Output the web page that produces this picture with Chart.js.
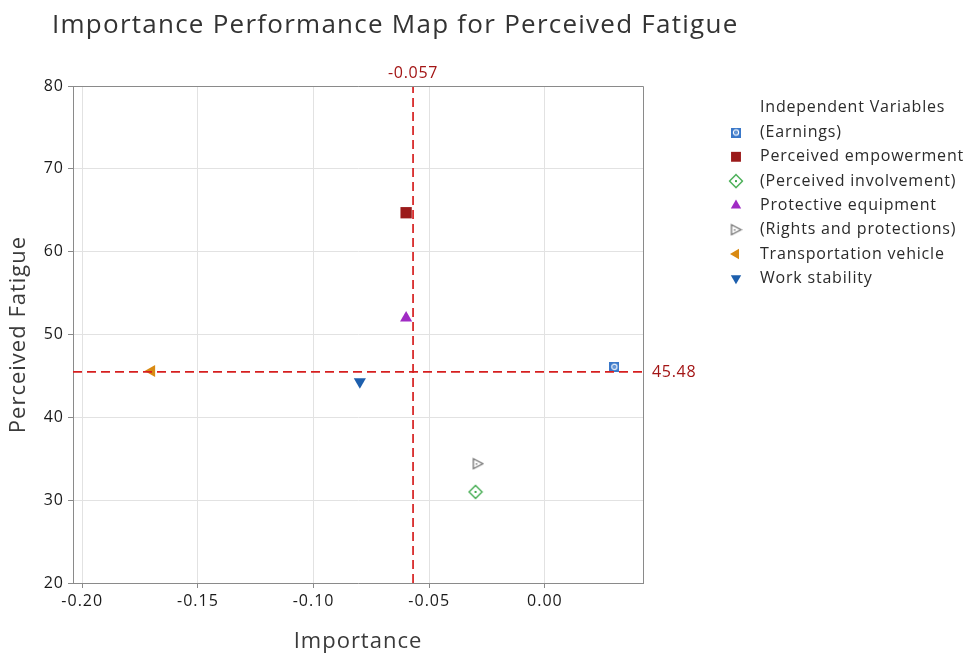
<!DOCTYPE html>
<html>
<head>
<meta charset="utf-8">
<script src="https://cdn.jsdelivr.net/npm/chart.js@4"></script>
<style>
  html, body { margin: 0; padding: 0; background: #fff; }
  #wrap { width: 966px; height: 655px; }
</style>
</head>
<body>
<div id="wrap"><canvas id="ipma" width="966" height="655"></canvas></div>
<script>
// data
const variables = ['(Earnings)', 'Perceived empowerment', '(Perceived involvement)', 'Protective equipment',
                   '(Rights and protections)', 'Transportation vehicle', 'Work stability'];
const importance = [0.030, -0.060, -0.030, -0.060, -0.029, -0.170, -0.080];
const performance = [46.1, 64.7, 31.0, 52.0, 34.4, 45.6, 44.3];
const meanImportance = -0.057;
const meanPerformance = 45.48;
const xTicks = [-0.20, -0.15, -0.10, -0.05, 0.00];
const yTicks = [20, 30, 40, 50, 60, 70, 80];

const FONT = '"Open Sans", "Noto Sans", sans-serif';
const REF_RED = '#d61f1f';
const LABEL_RED = '#a31515';

// little canvases for the markers that chart.js has no style for
function marker(w, h, draw) {
    const c = document.createElement('canvas');
    c.width = w; c.height = h;
    draw(c.getContext('2d'), w, h);
    return c;
}
const earningsMark = marker(10, 10, (g, w, h) => {
    g.fillStyle = '#3a78c9';
    g.fillRect(0, 0, w, h);
    g.strokeStyle = '#fff';
    g.lineWidth = 1.2;
    g.beginPath(); g.arc(5, 5, 2.6, 0, Math.PI * 2); g.stroke();
    g.fillStyle = '#fff';
    g.fillRect(4.5, 4.5, 1, 1);
});
const involvementMark = marker(16, 16, (g) => {
    g.strokeStyle = '#3ca94a';
    g.lineWidth = 1.3;
    g.beginPath();
    g.moveTo(8, 1.5); g.lineTo(14.5, 8); g.lineTo(8, 14.5); g.lineTo(1.5, 8); g.closePath();
    g.stroke();
    g.fillStyle = '#3ca94a';
    g.fillRect(7, 7, 2, 2);
});
const rightsMark = marker(13, 13, (g) => {
    g.strokeStyle = '#707070';
    g.lineWidth = 1.3;
    g.beginPath();
    g.moveTo(2, 1.5); g.lineTo(11.5, 6.5); g.lineTo(2, 11.5); g.closePath();
    g.stroke();
    g.fillStyle = '#707070';
    g.fillRect(4.5, 6, 1.5, 1.5);
});

const styles = [
    { pointStyle: earningsMark, color: '#3a78c9', radius: 5, rotation: 0 },
    { pointStyle: 'rect', color: '#9b1a1a', radius: 8, rotation: 0 },
    { pointStyle: involvementMark, color: '#3ca94a', radius: 7, rotation: 0 },
    { pointStyle: 'triangle', color: '#a02bc4', radius: 7, rotation: 0 },
    { pointStyle: rightsMark, color: '#707070', radius: 6, rotation: 0 },
    { pointStyle: 'triangle', color: '#d98a12', radius: 7, rotation: 270 },
    { pointStyle: 'triangle', color: '#1d5fad', radius: 7, rotation: 180 }
];

const pointSets = variables.map((name, i) => ({
    type: 'scatter',
    label: name,
    data: [{ x: importance[i], y: performance[i] }],
    pointStyle: styles[i].pointStyle,
    pointRotation: styles[i].rotation,
    pointRadius: styles[i].radius,
    backgroundColor: styles[i].color,
    borderColor: styles[i].color,
    borderWidth: 0,
    order: 2
}));

const xMin = -0.204, xMax = 0.0424, yMin = 20, yMax = 80;

const refSets = [
    { x: [meanImportance, meanImportance], y: [yMin, yMax] },
    { x: [xMin, xMax], y: [meanPerformance, meanPerformance] }
].map(r => ({
    type: 'line',
    label: 'ref',
    data: r.x.map((x, k) => ({ x: x, y: r.y[k] })),
    borderColor: REF_RED,
    borderWidth: 1.7,
    borderDash: [9, 5],
    pointRadius: 0,
    fill: false,
    order: 1
}));

// reference text is set a little wider than Open Sans
const spacing = {
    id: 'spacing',
    beforeDraw(chart) { chart.ctx.letterSpacing = '1px'; }
};

const overlay = {
    id: 'overlay',
    afterDraw(chart) {
        const ctx = chart.ctx;
        const a = chart.chartArea;
        const xs = chart.scales.x, ys = chart.scales.y;
        ctx.save();

        // top and right frame
        ctx.strokeStyle = '#8a8a8a';
        ctx.lineWidth = 1;
        ctx.beginPath();
        ctx.moveTo(a.left, a.top + 0.5); ctx.lineTo(a.right + 0.5, a.top + 0.5); ctx.lineTo(a.right + 0.5, a.bottom);
        ctx.stroke();

        // title
        ctx.letterSpacing = '1.25px';
        ctx.fillStyle = '#333';
        ctx.font = '26px ' + FONT;
        ctx.textAlign = 'left';
        ctx.textBaseline = 'middle';
        ctx.fillText('Importance Performance Map for Perceived Fatigue', 52, 26);

        // reference values
        ctx.letterSpacing = '0.7px';
        ctx.fillStyle = LABEL_RED;
        ctx.font = '16px ' + FONT;
        ctx.textAlign = 'center';
        ctx.fillText(meanImportance.toFixed(3), xs.getPixelForValue(meanImportance), a.top - 13);
        ctx.textAlign = 'left';
        ctx.fillText(meanPerformance.toFixed(2), a.right + 9, ys.getPixelForValue(meanPerformance));

        // legend
        ctx.letterSpacing = '0.8px';
        ctx.fillStyle = '#2b2b2b';
        ctx.font = '16px ' + FONT;
        ctx.fillText('Independent Variables', 760, 107);
        variables.forEach((name, i) => {
            const y = 132.5 + i * 24.3;
            const s = styles[i];
            ctx.fillStyle = s.color;
            ctx.strokeStyle = s.color;
            Chart.helpers.drawPoint(ctx, {
                pointStyle: s.pointStyle,
                radius: s.radius - 1,
                rotation: s.rotation,
                borderWidth: 0
            }, 736, y);
            ctx.fillStyle = '#2b2b2b';
            ctx.fillText(name, 760, y);
        });
        ctx.restore();
    }
};

new Chart(document.getElementById('ipma'), {
    data: { datasets: refSets.concat(pointSets) },
    options: {
        responsive: false,
        animation: false,
        layout: { padding: { top: 86, right: 323, bottom: 0, left: 0 } },
        plugins: { legend: { display: false }, tooltip: { enabled: false } },
        scales: {
            x: {
                type: 'linear',
                min: xMin,
                max: xMax,
                afterBuildTicks: s => { s.ticks = xTicks.map(v => ({ value: v })); },
                afterFit: s => { s.height = 72; },
                ticks: {
                    callback: v => v.toFixed(2),
                    color: '#1a1a1a',
                    font: { family: FONT, size: 16 },
                    padding: 4,
                    maxRotation: 0
                },
                grid: { color: '#e2e2e2', tickColor: '#8a8a8a', tickLength: 5 },
                border: { color: '#8a8a8a' },
                title: {
                    display: true,
                    text: 'Importance',
                    color: '#3a3a3a',
                    font: { family: FONT, size: 22 },
                    padding: { top: 0, bottom: 0 }
                }
            },
            y: {
                type: 'linear',
                min: yMin,
                max: yMax,
                afterBuildTicks: s => { s.ticks = yTicks.map(v => ({ value: v })); },
                afterFit: s => { s.width = 73; },
                ticks: {
                    color: '#1a1a1a',
                    font: { family: FONT, size: 16 },
                    padding: 4
                },
                grid: { color: '#e2e2e2', tickColor: '#8a8a8a', tickLength: 5 },
                border: { color: '#8a8a8a' },
                title: {
                    display: true,
                    text: 'Perceived Fatigue',
                    color: '#3a3a3a',
                    font: { family: FONT, size: 22 },
                    padding: { top: 6, bottom: 0 }
                }
            }
        }
    },
    plugins: [spacing, overlay]
});
</script>
</body>
</html>
